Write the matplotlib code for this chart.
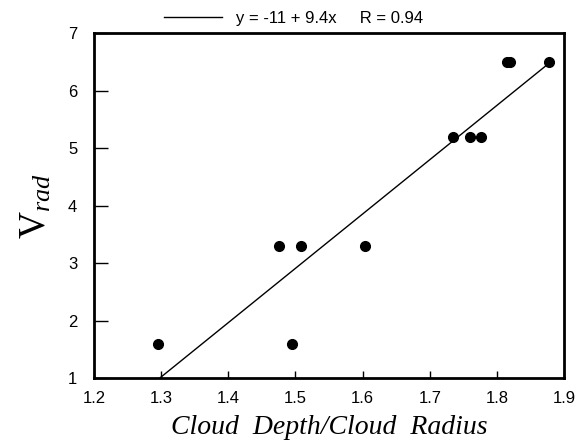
import numpy as np
import matplotlib
matplotlib.use("Agg")
import matplotlib.pyplot as plt

# cloud shape ratio vs radial velocity class
depth_ratio = [1.296, 1.475, 1.495, 1.508, 1.604, 1.734, 1.760, 1.776, 1.815, 1.820, 1.878]
v_rad = [1.6, 3.3, 1.6, 3.3, 3.3, 5.2, 5.2, 5.2, 6.5, 6.5, 6.5]

# regression line as drawn on the plot
fit_intercept = -11.25
fit_slope = 9.44
fit_r = 0.94

x_ticks = [1.2, 1.3, 1.4, 1.5, 1.6, 1.7, 1.8, 1.9]
y_ticks = [1, 2, 3, 4, 5, 6, 7]

plt.rcParams['font.family'] = ['Liberation Sans', 'DejaVu Sans']
plt.rcParams['mathtext.fontset'] = 'custom'
plt.rcParams['mathtext.rm'] = 'Liberation Serif'
plt.rcParams['mathtext.it'] = 'Liberation Serif:italic'

x = np.array(depth_ratio)
y = np.array(v_rad)

fig = plt.figure(figsize=(5.75, 4.46), dpi=100)
ax = fig.add_axes([0.1635, 0.152, 0.8175, 0.774])

x_fit = np.array([x.min(), x.max()])
line, = ax.plot(x_fit, fit_intercept + fit_slope * x_fit, color='black', lw=1.0)
ax.plot(x, y, 'o', color='black', markersize=7)

ax.set_xlim(1.2, 1.9)
ax.set_ylim(1, 7)
ax.set_xticks(x_ticks)
ax.set_yticks(y_ticks)
ax.set_xticklabels([f"{t:.1f}" for t in x_ticks])
ax.tick_params(direction='in', width=1, labelsize=12)
ax.tick_params(axis='x', length=5, pad=9)
ax.tick_params(axis='y', length=10, pad=12)
for s in ax.spines.values():
    s.set_linewidth(2)

ax.set_xlabel("Cloud  Depth/Cloud  Radius", family='Liberation Serif',
              style='italic', fontsize=20, labelpad=7)
ax.set_ylabel(r"$\mathrm{V}_{rad}$", fontsize=27, labelpad=10)

fig.legend([line], [f"y = {fit_intercept:.0f} + {fit_slope:.1f}x     R = {fit_r:.2f}"],
           loc='upper center', bbox_to_anchor=(0.51, 1.01), frameon=False,
           fontsize=12, handlelength=3.5)

fig.savefig("out.png", dpi=100)
